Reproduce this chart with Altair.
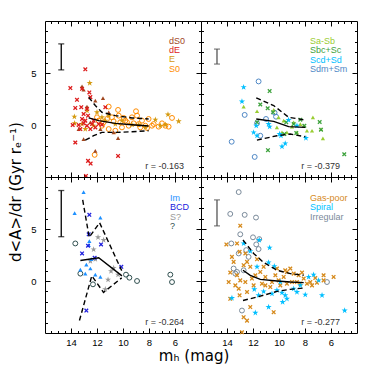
import altair as alt
import pandas as pd

FONT = "Liberation Sans"
TFONT = "DejaVu Sans"
STAR = "M0,-1L0.223,-0.307L0.951,-0.309L0.361,0.117L0.588,0.809L0,0.38L-0.588,0.809L-0.361,0.117L-0.951,-0.309L-0.223,-0.307Z"
XMARK = "M-1,-1L1,1M-1,1L1,-1"

# ---------------- data ----------------
X_TICKS = [6, 8, 10, 12, 14]
Y_TICKS = [0, 5]
X_MINOR = [4.5 + 0.5 * i for i in range(23)]
Y_MINOR = [-4, -3, -2, -1, 0, 1, 2, 3, 4, 5, 6, 7, 8, 9]
R_TEXT = ["r = -0.163", "r = -0.379", "r = -0.264", "r = -0.277"]

# Top-left panel
TL_dS0_mag = [13.15, 13.03, 11.54, 12.13, 12.77, 11.10, 12.51, 11.74, 13.03, 12.13, 10.38, 13.41, 10.72]
TL_dS0_val = [3.71, 3.39, 2.58, 2.35, 1.77, 1.22, 0.26, -0.39, -1.36, -2.49, -1.26, -0.39, -0.71]
TL_dE_mag = [12.90, 14.05, 13.15, 13.54, 12.59, 12.51, 13.21, 13.67, 12.77, 12.69,
             11.36, 13.15, 12.90, 13.03, 13.41, 12.77, 12.38, 12.26, 12.13, 12.51,
             13.28, 11.87, 13.67, 12.69, 12.49, 10.38, 12.85, 13.87, 11.62, 13.03]
TL_dE_val = [5.35, 3.55, 3.48, 2.42, 3.13, 2.68, 1.71, 1.64, 1.55, 0.90,
             1.71, 0.58, 0.42, 0.16, 0.00, -0.07, 0.09, 0.42, -0.23, -0.39,
             -0.39, 0.09, -1.68, -3.45, -3.71, -2.97, -4.90, 0.00, 0.03, 1.06]
TL_E_mag = [12.56, 13.74, 13.72, 12.77, 12.00, 11.62, 11.36, 10.59, 10.08, 9.31, 8.28,
            7.51, 6.54, 5.72, 7.13, 6.74, 12.90, 12.26, 11.10, 8.79, 13.15]
TL_E_val = [4.03, 0.80, 0.16, 1.38, 1.22, 0.74, 0.42, 0.09, 0.42, 0.03, -0.23,
            0.51, 1.00, 0.35, -0.07, 0.03, -0.39, -0.07, 0.90, 0.03, 0.09]
TL_S0_mag = [12.18, 11.10, 10.38, 11.23, 10.85, 10.33, 9.82, 9.31, 9.00, 8.92,
             8.54, 8.03, 8.79, 8.28, 7.77, 7.26, 6.74, 6.23, 6.49, 7.00,
             9.56, 10.08, 10.59, 11.10, 11.62, 11.87, 11.49, 10.72, 10.21, 9.69,
             9.18, 8.67, 8.15, 7.64, 12.00, 9.95]
TL_S0_val = [-2.87, 1.77, 1.45, 0.58, 0.74, 0.90, 0.42, 0.74, 1.32, 0.90,
             0.42, 0.58, 0.09, -0.07, -0.07, -0.16, -0.07, 0.68, -0.16, 0.16,
             -0.07, -0.23, -0.55, -0.39, -0.07, 0.42, 0.26, 0.35, 0.26, 0.26,
             0.16, -0.23, -0.29, 0.09, 0.74, 0.68]
TL_med_mag = [12.64, 11.87, 10.59, 9.31, 8.03]
TL_med_val = [0.68, 0.42, 0.16, 0.03, -0.10]
TL_hi_mag = [12.64, 12.13, 11.62, 10.59, 9.31, 8.03]
TL_hi_val = [2.67, 1.87, 1.22, 0.90, 0.68, 0.58]
TL_lo_mag = [12.90, 12.26, 11.62, 10.59, 9.31, 8.03]
TL_lo_val = [-1.45, -1.03, -0.71, -0.71, -0.65, -0.55]

# Top-right panel
TR_SaSb_mag = [12.72, 11.69, 10.41, 10.03, 9.64, 10.16, 9.39, 9.00, 8.87, 8.62, 8.36, 8.10, 7.85, 7.46, 7.39, 6.77, 6.62, 9.77]
TR_SaSb_val = [1.77, 1.32, 1.45, 0.74, 0.42, -0.23, -0.71, -0.16, 0.26, -0.71, 0.09, -0.07, -0.55, -0.55, 0.74, -0.39, -1.29, -0.71]
TR_Sbc_mag = [10.72, 11.44, 10.87, 10.46, 9.44, 8.87, 8.36, 8.67, 8.05, 6.87, 6.77, 4.98, 10.85, 9.59, 11.69]
TR_Sbc_val = [3.26, 1.97, 1.61, 1.22, 0.26, 0.09, 0.51, -0.77, -0.07, 0.29, -0.45, -2.81, -2.42, -0.87, 0.26]
TR_Scd_mag = [12.72, 12.85, 11.75, 11.95, 11.69, 10.80, 10.72, 9.85, 9.52, 9.77, 9.26, 8.62, 7.93, 9.95]
TR_Scd_val = [3.64, 2.26, -0.07, -0.71, -1.03, 0.09, -0.16, -1.03, -1.77, -2.07, 0.48, -0.07, -1.26, -0.87]
TR_Sdm_mag = [11.57, 12.64, 10.34, 10.23, 11.00, 11.44, 13.64, 11.87, 11.69]
TR_Sdm_val = [4.19, 0.97, 1.19, 0.80, 0.58, -1.03, -1.61, -3.07, 0.16]
TR_med_mag = [11.75, 10.41, 9.26, 7.98]
TR_med_val = [0.58, 0.35, -0.16, -0.23]
TR_hi_mag = [11.75, 10.41, 9.26, 7.98]
TR_hi_val = [2.61, 1.87, 0.74, 0.48]
TR_lo_mag = [11.70, 10.15, 9.13, 7.98]
TR_lo_val = [-1.45, -1.03, -0.87, -1.13]

# Bottom-left panel
BL_Im_mag = [13.03, 13.72, 11.74, 12.59, 13.28, 12.82, 12.51, 12.90, 12.13, 11.74, 12.44, 12.64]
BL_Im_val = [8.55, 6.52, 6.10, 3.84, 1.10, 1.58, 1.20, 0.71, 0.61, 0.39, 2.10, 3.45]
BL_BCD_mag = [12.59, 12.64, 12.69, 13.15, 11.69, 12.18, 10.13, 12.82]
BL_BCD_val = [6.36, 4.49, 3.39, 2.65, 3.52, 2.23, 1.36, -2.84]
BL_Sq_mag = [11.92, 11.49, 12.26, 12.51, 12.13, 10.72, 10.92, 11.15, 11.36, 10.38]
BL_Sq_val = [4.20, 3.94, 3.03, 1.90, 2.10, 1.26, 0.94, 0.13, -0.80, 0.61]
BL_Q_mag = [13.67, 13.28, 12.31, 9.77, 9.51, 8.92, 6.36, 6.23]
BL_Q_val = [3.61, 0.71, -0.32, 0.61, 0.32, 0.00, 0.61, -0.10]
BL_med_mag = [13.28, 11.87, 10.08]
BL_med_val = [1.97, 2.23, 0.49]
BL_hi_mag = [13.10, 12.60, 11.80, 10.10]
BL_hi_val = [7.80, 4.20, 5.60, 1.00]
BL_lo_mag = [13.35, 12.40, 11.50, 10.10]
BL_lo_val = [-3.80, 0.50, -1.10, 0.30]

# Bottom-right panel
BR_gas_mag = [12.98, 14.05, 13.62, 13.23, 13.03, 12.59, 12.46, 12.21, 13.75, 13.87,
              13.23, 12.98, 12.59, 12.08, 11.82, 11.44, 11.05, 10.54, 10.03, 9.64,
              9.13, 8.87, 8.49, 8.10, 7.59, 7.21, 6.57, 5.80, 13.75, 13.03,
              12.21, 12.72, 12.46, 10.41, 12.85, 11.05, 10.67, 9.90, 9.39, 8.62,
              7.85, 7.08, 13.36, 13.10, 12.46, 11.95, 11.31, 10.28, 9.52, 9.00,
              8.36, 7.46, 13.49, 12.72, 11.69, 11.18, 10.16, 9.39, 8.23, 6.57]
BR_gas_val = [5.32, 3.52, 2.32, 3.61, 2.81, 2.65, 1.84, 1.36, 0.81, -0.10,
              0.55, 0.06, -0.10, 0.23, 0.55, 0.87, 0.39, -0.10, 0.06, 0.39,
              1.20, 0.71, 0.55, 0.23, -0.10, 0.29, 0.06, 0.39, -1.71, -1.38,
              -2.51, -3.48, -3.81, -3.00, -4.93, -0.42, -0.58, -0.42, -0.26, -0.10,
              -0.26, -0.16, -0.42, -0.74, -1.06, -0.42, -0.26, 0.55, 1.03, -0.10,
              -0.26, -0.42, 1.84, 1.52, 2.10, 1.36, 1.20, 0.87, 0.81, 0.55]
BR_sp_mag = [12.72, 11.52, 10.72, 12.21, 11.69, 10.80, 10.36, 7.34, 6.95, 8.36,
             13.62, 11.90, 11.18, 10.54, 9.77, 9.52, 9.72, 9.39, 8.62, 7.98,
             6.69, 10.80, 11.82, 4.95, 11.57, 10.16, 8.87, 7.72, 9.90]
BR_sp_val = [3.61, 3.94, 3.20, 2.87, 1.36, 1.78, 1.42, 0.61, 0.06, -0.42,
             -1.64, -0.80, -1.00, -1.22, -1.13, -1.38, -2.03, -1.71, -1.06, -1.32,
             -1.38, -2.51, -3.06, -2.84, -1.38, -0.90, -0.74, 0.39, -0.10]
BR_irr_mag = [13.10, 13.75, 12.64, 11.77, 12.98, 12.00, 11.52, 13.67, 11.75, 11.57,
              13.10, 12.52, 12.34, 13.49, 13.36, 6.31, 12.85, 12.72, 13.23]
BR_irr_val = [8.55, 6.45, 6.36, 6.10, 4.49, 4.20, 4.03, 3.61, 3.52, 3.07,
              2.65, 2.97, 2.32, 1.20, 0.71, -0.10, -2.84, 1.03, 0.87]
BR_med_mag = [12.77, 12.21, 11.44, 10.15, 9.13, 8.10]
BR_med_val = [1.03, 0.55, 0.16, 0.00, -0.10, -0.16]
BR_hi_mag = [12.77, 11.95, 11.18, 10.15, 9.13, 8.10]
BR_hi_val = [3.94, 2.65, 1.78, 1.03, 0.71, 0.55]
BR_lo_mag = [12.77, 11.70, 10.15, 9.13, 8.10]
BR_lo_val = [-1.87, -1.55, -1.00, -0.80, -0.68]

# typical error bars (mag, low, high)
EB_TL = [14.75, 5.3, 7.8]
EB_TR = [14.77, 5.86, 7.3]
EB_BL = [14.75, 4.26, 8.7]
EB_BR = [14.77, 5.3, 7.8]

LEG_TL = ["dS0", "dE", "E", "S0"]
LEG_TR = ["Sa-Sb", "Sbc+Sc", "Scd+Sd", "Sdm+Sm"]
LEG_BL = ["Im", "BCD", "S?", "?"]
LEG_BR = ["Gas-poor", "Spiral", "Irregular"]

C_dS0, C_dE, C_E, C_S0 = "#A0461E", "#DD1C1C", "#D49A10", "#FF8C00"
C_SaSb, C_Sbc, C_Scd, C_Sdm = "#9ACD32", "#3DA23D", "#00BFFF", "#4F88C6"
C_Im, C_BCD, C_Sq, C_Q = "#1E90FF", "#2020DD", "#999999", "#2F4F4F"
C_gas, C_sp, C_irr = "#D68A1C", "#00BFFF", "#7A8A9A"

W = H = 156


def sx():
    return alt.Scale(domain=[4, 16], reverse=True, nice=False, zero=False)


def sy():
    return alt.Scale(domain=[-5, 10], nice=False, zero=False)


def pts(mags, vals, color, kind):
    df = pd.DataFrame({"mag": mags, "val": vals})
    c = alt.Chart(df)
    if kind == "circle":
        m = c.mark_point(shape="circle", filled=False, size=24, strokeWidth=1, color=color, opacity=1)
    elif kind == "x":
        m = c.mark_point(shape=XMARK, filled=False, size=13, strokeWidth=1.3, color=color, opacity=1)
    elif kind == "star":
        m = c.mark_point(shape=STAR, filled=True, size=42, color=color, opacity=1, strokeWidth=0)
    else:
        m = c.mark_point(shape="triangle-up", filled=True, size=18, color=color, opacity=1, strokeWidth=0)
    return m.encode(x=alt.X("mag:Q", scale=sx(), axis=None),
                    y=alt.Y("val:Q", scale=sy(), axis=None))


def line(mags, vals, dashed):
    df = pd.DataFrame({"mag": mags, "val": vals, "i": list(range(len(mags)))})
    kw = dict(color="black", strokeWidth=1.4)
    if dashed:
        kw["strokeDash"] = [5, 3]
    return alt.Chart(df).mark_line(**kw).encode(
        x=alt.X("mag:Q", scale=sx(), axis=None),
        y=alt.Y("val:Q", scale=sy(), axis=None),
        order="i:Q")


def errbar(eb, color):
    df = pd.DataFrame({"mag": [eb[0]], "lo": [eb[1]], "hi": [eb[2]]})
    b = alt.Chart(df)
    X = alt.X("mag:Q", scale=sx(), axis=None)
    rule = b.mark_rule(color=color, strokeWidth=1.3).encode(
        x=X, y=alt.Y("lo:Q", scale=sy(), axis=None), y2="hi:Q")
    c1 = b.mark_tick(color=color, orient="horizontal", size=6, thickness=1.3).encode(
        x=X, y=alt.Y("lo:Q", scale=sy(), axis=None))
    c2 = b.mark_tick(color=color, orient="horizontal", size=6, thickness=1.3).encode(
        x=X, y=alt.Y("hi:Q", scale=sy(), axis=None))
    return [rule, c1, c2]


def legend(labels, colors, x0, y0):
    out = []
    for i, (lab, col) in enumerate(zip(labels, colors)):
        out.append(alt.Chart(pd.DataFrame({"t": [lab]})).mark_text(
            align="left", baseline="middle", fontSize=9, font=FONT, color=col
        ).encode(text="t:N", x=alt.value(x0), y=alt.value(y0 + i * 9.4)))
    return out


def rlabel(txt):
    return alt.Chart(pd.DataFrame({"t": [txt]})).mark_text(
        align="right", baseline="middle", fontSize=9, font=FONT, color="#333333"
    ).encode(text="t:N", x=alt.value(W - 17), y=alt.value(H - 11))


def axis_layers(xlab, ylab):
    df = pd.DataFrame({"mag": [10.0], "val": [0.0]})
    base = alt.Chart(df).mark_point(opacity=0, size=1)
    common = dict(domain=False, grid=False, title=None, tickColor="black", tickWidth=1,
                  labelFont=FONT, labelFontSize=9.5, labelColor="black")

    def ax(orient, values, size, labels, pad):
        return alt.Axis(orient=orient, values=values, tickSize=size, offset=-size,
                        labels=labels, labelPadding=pad, **common)

    out = []
    for (xo, yo, xv, yv, sz, lab) in [("bottom", "left", X_TICKS, Y_TICKS, 5, True),
                                      ("bottom", "left", X_MINOR, Y_MINOR, 2.5, False),
                                      ("top", "right", X_TICKS, Y_TICKS, 5, False),
                                      ("top", "right", X_MINOR, Y_MINOR, 2.5, False)]:
        out.append(base.encode(
            x=alt.X("mag:Q", scale=sx(), axis=ax(xo, xv, sz, lab and xlab, 4)),
            y=alt.Y("val:Q", scale=sy(), axis=ax(yo, yv, sz, lab and ylab, 9))))
    return out


def panel(point_layers, lines, eb, ebcolor, leg, r, xlab, ylab):
    layers = list(point_layers)
    layers += [line(lines[0], lines[1], False), line(lines[2], lines[3], True), line(lines[4], lines[5], True)]
    layers += errbar(eb, ebcolor)
    layers += leg
    layers.append(rlabel(r))
    layers += axis_layers(xlab, ylab)
    return alt.layer(*layers).resolve_axis(x="independent", y="independent").properties(width=W, height=H)


TL = panel([pts(TL_S0_mag, TL_S0_val, C_S0, "circle"),
            pts(TL_E_mag, TL_E_val, C_E, "star"),
            pts(TL_dS0_mag, TL_dS0_val, C_dS0, "tri"),
            pts(TL_dE_mag, TL_dE_val, C_dE, "x")],
           [TL_med_mag, TL_med_val, TL_hi_mag, TL_hi_val, TL_lo_mag, TL_lo_val],
           EB_TL, "black", legend(LEG_TL, [C_dS0, C_dE, C_E, C_S0], 124, 19.5),
           R_TEXT[0], False, True)
TR = panel([pts(TR_Sdm_mag, TR_Sdm_val, C_Sdm, "circle"),
            pts(TR_SaSb_mag, TR_SaSb_val, C_SaSb, "tri"),
            pts(TR_Sbc_mag, TR_Sbc_val, C_Sbc, "x"),
            pts(TR_Scd_mag, TR_Scd_val, C_Scd, "star")],
           [TR_med_mag, TR_med_val, TR_hi_mag, TR_hi_val, TR_lo_mag, TR_lo_val],
           EB_TR, "#555555", legend(LEG_TR, [C_SaSb, C_Sbc, C_Scd, C_Sdm], 109, 20),
           R_TEXT[1], False, False)
BL = panel([pts(BL_Q_mag, BL_Q_val, C_Q, "circle"),
            pts(BL_Sq_mag, BL_Sq_val, C_Sq, "star"),
            pts(BL_Im_mag, BL_Im_val, C_Im, "tri"),
            pts(BL_BCD_mag, BL_BCD_val, C_BCD, "x")],
           [BL_med_mag, BL_med_val, BL_hi_mag, BL_hi_val, BL_lo_mag, BL_lo_val],
           EB_BL, "black", legend(LEG_BL, [C_Im, C_BCD, C_Sq, C_Q], 125, 21),
           R_TEXT[2], True, True)
BR = panel([pts(BR_irr_mag, BR_irr_val, C_irr, "circle"),
            pts(BR_gas_mag, BR_gas_val, C_gas, "x"),
            pts(BR_sp_mag, BR_sp_val, C_sp, "star")],
           [BR_med_mag, BR_med_val, BR_hi_mag, BR_hi_val, BR_lo_mag, BR_lo_val],
           EB_BR, "#555555", legend(LEG_BR, [C_gas, C_sp, C_irr], 109, 21),
           R_TEXT[3], True, False)

grid = alt.concat(TL, TR, BL, BR, columns=2, spacing=0, bounds="flush",
                  title=alt.TitleParams("m\u2095 (mag)", orient="bottom", anchor="middle",
                                        font=TFONT, fontSize=15, fontWeight="normal",
                                        color="black", offset=2))
chart = alt.vconcat(grid, title=alt.TitleParams("d<A>/dr (Gyr r\u2091\u207b\u00b9)", orient="left",
                                                  anchor="middle", font=TFONT, fontSize=15,
                                                  fontWeight="normal", color="black", offset=6)
                    ).properties(padding={"left": 1, "top": 12, "right": 5, "bottom": 5}
                    ).configure_view(stroke="black", strokeWidth=1).configure_concat(spacing=0)

chart.save("out.html", embed_options={"renderer": "svg", "actions": False})
